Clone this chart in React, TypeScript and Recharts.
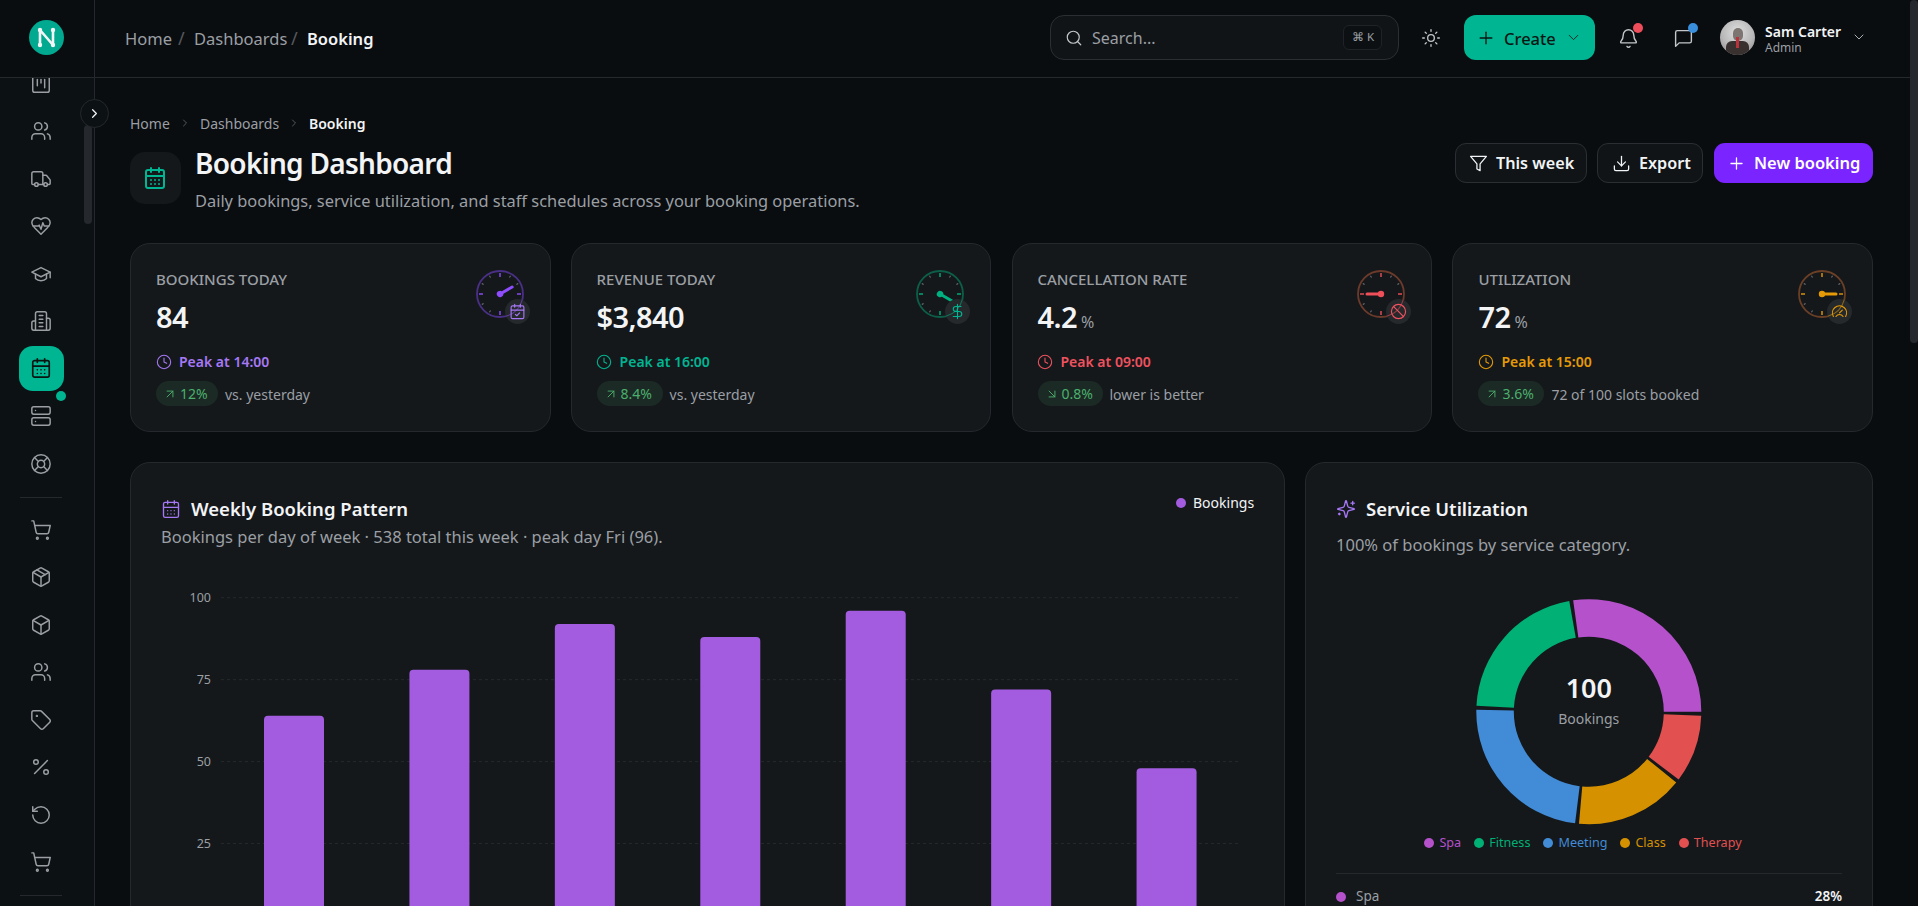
import React from "react";
import { BarChart, Bar, CartesianGrid, XAxis, YAxis, PieChart, Pie, Cell, Legend } from "recharts";

const days = ["Mon", "Tue", "Wed", "Thu", "Fri", "Sat", "Sun"];
const bookingsPerDay = [64, 78, 92, 88, 96, 72, 48];
const bookingTicks = [25, 50, 75, 100];

const serviceNames = ["Spa", "Fitness", "Meeting", "Class", "Therapy"];
const serviceShares = [28, 22, 24, 16, 10];
const serviceColors = ["#b651cc", "#00b074", "#428bd6", "#d69100", "#e25050"];

const kpiLabels = ["BOOKINGS TODAY", "REVENUE TODAY", "CANCELLATION RATE", "UTILIZATION"];
const kpiValues = ["84", "$3,840", "4.2", "72"];
const kpiUnits = ["", "", "%", "%"];
const kpiPeaks = ["Peak at 14:00", "Peak at 16:00", "Peak at 09:00", "Peak at 15:00"];
const kpiDeltas = ["12%", "8.4%", "0.8%", "3.6%"];
const kpiNotes = ["vs. yesterday", "vs. yesterday", "lower is better", "72 of 100 slots booked"];
const kpiColors = ["#a678f5", "#00b592", "#f0525f", "#e69a06"];
const kpiGaugeColors = ["#8f4dff", "#00b080", "#ee4f58", "#e69a06"];
const kpiRings = ["#4a2f86", "#0c5e48", "#6b3a2a", "#6b3f26"];
const kpiNeedles = [-30, 30, 180, 0];

const FONT = "'Noto Sans', sans-serif";
const CARD = "#14181b";
const LINE = "#25292d";
const TEXT = "#f3f4f6";
const MUTED = "#9b9fa4";

const bookingRows = days.map((day, i) => ({ day, bookings: bookingsPerDay[i] }));
const serviceRows = serviceNames.map((name, i) => ({ name, value: serviceShares[i] }));

type IconDef = { d?: string[]; c?: number[][]; r?: number[][] };

const calendar: IconDef = { d: ["M16 2v4", "M8 2v4", "M3 10h18", "M8 14h.01", "M12 14h.01", "M16 14h.01", "M8 18h.01", "M12 18h.01", "M16 18h.01"], r: [[3, 4, 18, 18, 2]] };
const calendarCheck: IconDef = { d: ["M16 2v4", "M8 2v4", "M3 10h18", "m9 16 2 2 4-4"], r: [[3, 4, 18, 18, 2]] };
const users: IconDef = { d: ["M16 21v-2a4 4 0 0 0-4-4H6a4 4 0 0 0-4 4v2", "M22 21v-2a4 4 0 0 0-3-3.87", "M16 3.13a4 4 0 0 1 0 7.75"], c: [[9, 7, 4]] };
const truck: IconDef = { d: ["M14 18V6a2 2 0 0 0-2-2H4a2 2 0 0 0-2 2v11a1 1 0 0 0 1 1h2", "M15 18H9", "M19 18h2a1 1 0 0 0 1-1v-3.65a1 1 0 0 0-.22-.624l-3.48-4.35A1 1 0 0 0 17.52 8H14"], c: [[17, 18, 2], [7, 18, 2]] };
const heartPulse: IconDef = { d: ["M19 14c1.49-1.46 3-3.21 3-5.5A5.5 5.5 0 0 0 16.5 3c-1.76 0-3 .5-4.5 2-1.5-1.5-2.74-2-4.5-2A5.5 5.5 0 0 0 2 8.5c0 2.3 1.5 4.05 3 5.5l7 7Z", "M3.22 12H9.5l.5-1 2 4.5 2-7 1.5 3.5h5.27"] };
const graduation: IconDef = { d: ["M22 10v6", "M2 10l10-5 10 5-10 5z", "M6 12v5c3 3 9 3 12 0v-5"] };
const building: IconDef = { d: ["M6 22V4a2 2 0 0 1 2-2h8a2 2 0 0 1 2 2v18Z", "M6 12H4a2 2 0 0 0-2 2v6a2 2 0 0 0 2 2h2", "M18 9h2a2 2 0 0 1 2 2v9a2 2 0 0 1-2 2h-2", "M10 6h4", "M10 10h4", "M10 14h4", "M10 18h4"] };
const server: IconDef = { d: ["M6 6h.01", "M6 18h.01"], r: [[2, 2, 20, 8, 2], [2, 14, 20, 8, 2]] };
const lifebuoy: IconDef = { d: ["m4.93 4.93 4.24 4.24", "m14.83 9.17 4.24-4.24", "m14.83 14.83 4.24 4.24", "m9.17 14.83-4.24 4.24"], c: [[12, 12, 10], [12, 12, 4]] };
const cart: IconDef = { d: ["M2.05 2.05h2l2.66 12.42a2 2 0 0 0 2 1.58h9.78a2 2 0 0 0 1.95-1.57l1.65-7.43H5.12"], c: [[8, 21, 1], [19, 21, 1]] };
const box: IconDef = { d: ["M21 8a2 2 0 0 0-1-1.73l-7-4a2 2 0 0 0-2 0l-7 4A2 2 0 0 0 3 8v8a2 2 0 0 0 1 1.73l7 4a2 2 0 0 0 2 0l7-4A2 2 0 0 0 21 16Z", "m3.3 7 8.7 5 8.7-5", "M12 22V12"] };
const pack: IconDef = { ...box, d: [...(box.d as string[]), "m7.5 4.27 9 5.15"] };
const tag: IconDef = { d: ["M12.586 2.586A2 2 0 0 0 11.172 2H4a2 2 0 0 0-2 2v7.172a2 2 0 0 0 .586 1.414l8.704 8.704a2.426 2.426 0 0 0 3.42 0l6.58-6.58a2.426 2.426 0 0 0 0-3.42z"], c: [[7.5, 7.5, 0.5]] };
const percent: IconDef = { d: ["M19 5 5 19"], c: [[6.5, 6.5, 2.5], [17.5, 17.5, 2.5]] };
const undo: IconDef = { d: ["M3 12a9 9 0 1 0 9-9 9.75 9.75 0 0 0-6.74 2.74L3 8", "M3 3v5h5"] };
const kanban: IconDef = { d: ["M8 7v7", "M12 7v4", "M16 7v9"], r: [[3, 3, 18, 18, 2]] };
const chevronRight: IconDef = { d: ["m9 18 6-6-6-6"] };
const chevronDown: IconDef = { d: ["m6 9 6 6 6-6"] };
const search: IconDef = { d: ["m21 21-4.34-4.34"], c: [[11, 11, 8]] };
const sun: IconDef = { d: ["M12 2v2", "M12 20v2", "m4.93 4.93 1.41 1.41", "m17.66 17.66 1.41 1.41", "M2 12h2", "M20 12h2", "m6.34 17.66-1.41 1.41", "m19.07 4.93-1.41 1.41"], c: [[12, 12, 4]] };
const plus: IconDef = { d: ["M5 12h14", "M12 5v14"] };
const bell: IconDef = { d: ["M10.27 21a2 2 0 0 0 3.46 0", "M3.26 15.33A1 1 0 0 0 4 17h16a1 1 0 0 0 .74-1.67C19.41 13.96 18 12.5 18 8A6 6 0 0 0 6 8c0 4.5-1.41 5.96-2.74 7.33"] };
const message: IconDef = { d: ["M21 15a2 2 0 0 1-2 2H7l-4 4V5a2 2 0 0 1 2-2h14a2 2 0 0 1 2 2z"] };
const funnel: IconDef = { d: ["M22 3H2l8 9.46V19l4 2v-8.54L22 3z"] };
const download: IconDef = { d: ["M12 15V3", "M21 15v4a2 2 0 0 1-2 2H5a2 2 0 0 1-2-2v-4", "m7 10 5 5 5-5"] };
const clock: IconDef = { d: ["M12 6v6l4 2"], c: [[12, 12, 10]] };
const arrowUp: IconDef = { d: ["M7 7h10v10", "M7 17 17 7"] };
const arrowDown: IconDef = { d: ["m7 7 10 10", "M17 7v10H7"] };
const sparkles: IconDef = { d: ["M9.94 15.5A2 2 0 0 0 8.5 14.06l-6.14-1.58a.5.5 0 0 1 0-.96L8.5 9.94A2 2 0 0 0 9.94 8.5l1.58-6.14a.5.5 0 0 1 .96 0L14.06 8.5A2 2 0 0 0 15.5 9.94l6.14 1.58a.5.5 0 0 1 0 .96L15.5 14.06a2 2 0 0 0-1.44 1.44l-1.58 6.14a.5.5 0 0 1-.96 0z", "M20 3v4", "M22 5h-4", "M4 17v2", "M5 18H3"] };
const dollar: IconDef = { d: ["M12 2v20", "M17 5H9.5a3.5 3.5 0 0 0 0 7h5a3.5 3.5 0 0 1 0 7H6"] };
const ban: IconDef = { d: ["m4.9 4.9 14.2 14.2"], c: [[12, 12, 10]] };
const gaugeIcon: IconDef = { d: ["M12 14l4-4", "M3.34 19a10 10 0 1 1 17.32 0", "M7 19a6 6 0 0 1 10 0"] };

const kpiBadges = [calendarCheck, dollar, ban, gaugeIcon];
const kpiLefts = [130, 570.6, 1011.5, 1452.4];

const sideIcons: [IconDef, number][] = [
  [users, 131], [truck, 179], [heartPulse, 226], [graduation, 274], [building, 321], [server, 416], [lifebuoy, 464],
  [cart, 530], [pack, 577], [box, 625], [users, 672], [tag, 720], [percent, 767], [undo, 815], [cart, 862],
];

// draws an icon centred on cx, cy
function Icon({ def, cx, cy, size = 20, color = MUTED, sw = 1.6 }: { def: IconDef; cx: number; cy: number; size?: number; color?: string; sw?: number }) {
  return (
    <svg width={size} height={size} viewBox="0 0 24 24" fill="none" stroke={color} strokeWidth={sw} strokeLinecap="round" strokeLinejoin="round"
      style={{ position: "absolute", left: cx - size / 2, top: cy - size / 2 }}>
      {(def.r || []).map((r, i) => <rect key={i} x={r[0]} y={r[1]} width={r[2]} height={r[3]} rx={r[4]} />)}
      {(def.c || []).map((c, i) => <circle key={i} cx={c[0]} cy={c[1]} r={c[2]} />)}
      {(def.d || []).map((d, i) => <path key={i} d={d} />)}
    </svg>
  );
}

// single line of text, vertically centred on y
function T({ x, y, size, color = TEXT, weight = 400, right, children, spacing }: { x: number; y: number; size: number; color?: string; weight?: number; right?: boolean; children: React.ReactNode; spacing?: number }) {
  return (
    <div style={{
      position: "absolute", top: y - size * 0.7, lineHeight: `${size * 1.4}px`, fontSize: size, color, fontWeight: weight, whiteSpace: "nowrap", letterSpacing: spacing,
      ...(right ? { right: 1918 - x } : { left: x }),
    }}>{children}</div>
  );
}

function Box({ x, y, w, h, r = 0, bg, border, style }: { x: number; y: number; w: number; h: number; r?: number; bg?: string; border?: string; style?: React.CSSProperties }) {
  return <div style={{ position: "absolute", left: x, top: y, width: w, height: h, borderRadius: r, background: bg, border: border ? `1px solid ${border}` : undefined, boxSizing: "border-box", ...style }} />;
}

function Gauge({ cx, cy, color, ring, angle, badge, badgeColor }: { cx: number; cy: number; color: string; ring: string; angle: number; badge: IconDef; badgeColor: string }) {
  const ticks = [0, 30, 60, 90, 120, 150, 180, 210, 240, 270, 300, 330];
  return (
    <>
      <svg width={56} height={56} viewBox="-28 -28 56 56" style={{ position: "absolute", left: cx - 28, top: cy - 28 }}>
        <circle r={23} fill="none" stroke={ring} strokeWidth={1.8} />
        {ticks.map((t) => (
          <line key={t} x1={t % 90 === 0 ? 17 : 19} x2={21} transform={`rotate(${t})`}
            stroke={t % 90 === 0 ? color : "#6f7377"} strokeWidth={t % 90 === 0 ? 1.4 : 1} />
        ))}
        <g transform={`rotate(${angle})`}>
          <line x1={0} x2={14} stroke={color} strokeWidth={3} strokeLinecap="round" />
          <circle r={3.2} fill={color} />
        </g>
      </svg>
      <Box x={cx + 5} y={cy + 5} w={25} h={25} r={13} bg="#26292c" />
      <svg width={56} height={56} viewBox="-28 -28 56 56" style={{ position: "absolute", left: cx - 28, top: cy - 28 }}>
        <circle r={23} fill="none" stroke={color} strokeWidth={1} strokeDasharray="24 120.5" transform="rotate(15)" opacity={0.55} />
      </svg>
      <Icon def={badge} cx={cx + 17.5} cy={cy + 17.5} size={17} color={badgeColor} />
    </>
  );
}

function KpiCard({ i }: { i: number }) {
  const x = kpiLefts[i];
  const color = kpiColors[i];
  const pillW = [62, 66, 65, 66][i];
  return (
    <>
      <Box x={x} y={243} w={420.5} h={189} r={20} bg={CARD} border={LINE} />
      <T x={x + 26} y={279.5} size={15} color={MUTED} weight={500}>{kpiLabels[i]}</T>
      <T x={x + 26} y={317} size={29} weight={600} spacing={-0.6}>{kpiValues[i]}{kpiUnits[i] && <span style={{ fontSize: 16, fontWeight: 400, color: MUTED, marginLeft: 4 }}>{kpiUnits[i]}</span>}</T>
      <Icon def={clock} cx={x + 33.5} cy={362} size={16} color={color} />
      <T x={x + 49} y={362} size={14} weight={600} color={color}>{kpiPeaks[i]}</T>
      <Box x={x + 26} y={381} w={pillW} h={25} r={13} bg="#1b2a24" />
      <Icon def={i === 2 ? arrowDown : arrowUp} cx={x + 40} cy={393.5} size={14} color="#4caf6e" />
      <T x={x + 50} y={394} size={14} color="#4caf6e">{kpiDeltas[i]}</T>
      <T x={x + 26 + pillW + 7} y={395} size={14} color={MUTED}>{kpiNotes[i]}</T>
      <Gauge cx={x + 369.6} cy={293.7} color={kpiGaugeColors[i]} ring={kpiRings[i]} angle={kpiNeedles[i]} badge={kpiBadges[i]} badgeColor={color} />
    </>
  );
}

function ServiceLegend() {
  return (
    <div style={{ display: "flex", justifyContent: "center", gap: 13, fontSize: 12.6 }}>
      {serviceNames.map((name, i) => (
        <span key={name} style={{ display: "flex", alignItems: "center", gap: 5, color: serviceColors[i] }}>
          <span style={{ width: 10, height: 10, borderRadius: 5, background: serviceColors[i] }} />
          {name}
        </span>
      ))}
    </div>
  );
}

export default function App() {
  return (
    <div style={{ position: "absolute", left: 0, top: 0, width: 1918, height: 906, overflow: "hidden", background: "#0a0d10", fontFamily: FONT }}>
      {/* sidebar */}
      <Box x={0} y={0} w={95} h={906} bg="#0c1114" style={{ borderRight: `1px solid ${LINE}` }} />
      <Icon def={kanban} cx={41} cy={84} size={22} />
      {sideIcons.map(([def, y], i) => <Icon key={i} def={def} cx={41} cy={y} size={22} />)}
      <Box x={19} y={346} w={45} h={45} r={14} bg="#00b592" />
      <Icon def={calendar} cx={41} cy={368} size={22} color="#0a1512" sw={1.8} />
      <Box x={56} y={391} w={10} h={10} r={5} bg="#00b592" />
      <Box x={20} y={497} w={42} h={1} bg={LINE} />
      <Box x={20} y={895} w={42} h={1} bg={LINE} />
      <Box x={84} y={125} w={8} h={99} r={4} bg="#25292d" />
      <Box x={79.5} y={98.5} w={29} h={29} r={15} bg="#0c1114" border={LINE} />
      <Icon def={chevronRight} cx={94} cy={113} size={15} color={TEXT} sw={2} />

      {/* header */}
      <Box x={0} y={0} w={1918} h={78} bg="#0a0d10" style={{ borderBottom: `1px solid ${LINE}` }} />
      <Box x={0} y={0} w={95} h={78} style={{ borderRight: `1px solid ${LINE}` }} />
      <Box x={29} y={20} w={35} h={35} r={18} bg="#00a98f" />
      <svg width={35} height={35} viewBox="-17.5 -17.5 35 35" style={{ position: "absolute", left: 29, top: 20 }}>
        <path d="M-6.5 7.5V-7.5L6.5 7.5V-7.5" fill="none" stroke="#f3f4f6" strokeWidth={2.6} strokeLinejoin="round" />
        <circle cx={-6.5} cy={-7.5} r={2.2} fill="#f3f4f6" />
        <circle cx={-6.5} cy={7.5} r={2.2} fill="#f3f4f6" />
        <circle cx={6.5} cy={-7.5} r={2.2} fill="#f3f4f6" />
        <circle cx={6.5} cy={7.5} r={2.2} fill="#f3f4f6" />
      </svg>
      <T x={125} y={39} size={16.5} color={MUTED}>Home</T>
      <T x={178} y={39} size={18} color="#55595e">/</T>
      <T x={194} y={39} size={16.5} color={MUTED}>Dashboards</T>
      <T x={291} y={39} size={18} color="#55595e">/</T>
      <T x={307} y={39} size={16.5} weight={600}>Booking</T>

      <Box x={1050} y={15} w={349} h={45} r={14} bg="#101417" border="#2b2f33" />
      <Icon def={search} cx={1074} cy={38} size={18} color="#c4c6c9" />
      <T x={1092} y={38.5} size={16} color={MUTED}>Search...</T>
      <Box x={1343} y={25} w={39} h={25} r={6} bg="#0c1012" border="#1f2327" />
      <T x={1352} y={37} size={11.5} color={MUTED}>⌘ K</T>
      <Icon def={sun} cx={1431} cy={38} size={20} color="#c4c6c9" />
      <Box x={1464} y={15} w={131} h={45} r={12} bg="#00b592" />
      <Icon def={plus} cx={1486} cy={38} size={20} color="#0a1512" />
      <T x={1504} y={39} size={16.5} weight={500} color="#0a1512">Create</T>
      <Icon def={chevronDown} cx={1573} cy={37} size={17} color="#0a1512" sw={1.2} />
      <Icon def={bell} cx={1628} cy={38} size={21} color="#c4c6c9" />
      <Box x={1633} y={23} w={10} h={10} r={5} bg="#ef4d5a" />
      <Icon def={message} cx={1683} cy={38} size={21} color="#c4c6c9" />
      <Box x={1688} y={23} w={10} h={10} r={5} bg="#3a8fdc" />
      <div style={{ position: "absolute", left: 1720, top: 20, width: 35, height: 35, borderRadius: 18, overflow: "hidden", background: "radial-gradient(circle at 50% 35%, #e0e0e0 0%, #b8b8b8 55%, #808080 100%)" }}>
        <div style={{ position: "absolute", left: 13, top: 8, width: 10, height: 13, borderRadius: 5, background: "#7d7572" }} />
        <div style={{ position: "absolute", left: 6, top: 21, width: 23, height: 16, borderRadius: 6, background: "#38312f" }} />
        <div style={{ position: "absolute", left: 16, top: 17, width: 3, height: 11, background: "#b8333a" }} />
      </div>
      <T x={1765} y={32} size={14} weight={600}>Sam Carter</T>
      <T x={1765} y={48} size={12} color={MUTED}>Admin</T>
      <Icon def={chevronDown} cx={1859} cy={37} size={16} color="#c4c6c9" sw={1.3} />

      {/* page scrollbar */}
      <Box x={1910} y={0} w={8} h={343} r={4} bg="#25292d" />

      {/* page title */}
      <T x={130} y={124} size={14} color={MUTED}>Home</T>
      <Icon def={chevronRight} cx={185} cy={123} size={12} color="#666a6f" />
      <T x={200} y={124} size={14} color={MUTED}>Dashboards</T>
      <Icon def={chevronRight} cx={294} cy={123} size={12} color="#666a6f" />
      <T x={309} y={124} size={14} weight={600}>Booking</T>
      <Box x={130} y={152} w={51} h={52} r={15} bg="#14181b" />
      <Icon def={calendar} cx={155} cy={178} size={24} color="#00b592" sw={2} />
      <T x={195} y={164} size={28} weight={600} spacing={-0.7}>Booking Dashboard</T>
      <T x={195} y={201} size={16.4} color={MUTED}>Daily bookings, service utilization, and staff schedules across your booking operations.</T>

      <Box x={1455} y={143} w={132} h={40} r={11} bg="#101417" border="#2b2f33" />
      <Icon def={funnel} cx={1478} cy={163} size={19} color={TEXT} />
      <T x={1496} y={163} size={16.2} weight={600}>This week</T>
      <Box x={1597} y={143} w={106} h={40} r={11} bg="#101417" border="#2b2f33" />
      <Icon def={download} cx={1621} cy={163} size={19} color={TEXT} />
      <T x={1639} y={163} size={16.2} weight={600}>Export</T>
      <Box x={1714} y={143} w={159} h={40} r={11} bg="#7a25ff" />
      <Icon def={plus} cx={1736} cy={163} size={19} color="#ffffff" />
      <T x={1754} y={163} size={16.5} weight={600} color="#ffffff">New booking</T>

      {kpiLabels.map((_, i) => <KpiCard key={i} i={i} />)}

      {/* weekly bookings card */}
      <Box x={130} y={462} w={1155} h={500} r={20} bg={CARD} border={LINE} />
      <Icon def={calendar} cx={171} cy={509} size={20} color="#a678f5" />
      <T x={191} y={509} size={18.5} weight={600}>Weekly Booking Pattern</T>
      <T x={161} y={537} size={16.5} color={MUTED}>Bookings per day of week · 538 total this week · peak day Fri (96).</T>
      <Box x={1176} y={498} w={10} h={10} r={5} bg="#a35ce0" />
      <T x={1193} y={503} size={14}>Bookings</T>
      <div style={{ position: "absolute", left: 161, top: 585 }}>
        <BarChart width={1085} height={340.5} data={bookingRows} margin={{ top: 12.7, right: 7, bottom: 0, left: 0 }} barSize={60}>
          <CartesianGrid vertical={false} stroke={LINE} strokeDasharray="3 3" />
          <XAxis dataKey="day" hide />
          <YAxis domain={[0, 100]} ticks={bookingTicks} axisLine={false} tickLine={false} width={60} tickMargin={4} tick={{ fill: MUTED, fontSize: 12.5 }} />
          <Bar dataKey="bookings" fill="#a35ce0" radius={[4, 4, 0, 0]} isAnimationActive={false} />
        </BarChart>
      </div>

      {/* service utilization card */}
      <Box x={1305} y={462} w={568} h={500} r={20} bg={CARD} border={LINE} />
      <Icon def={sparkles} cx={1346} cy={509} size={20} color="#a678f5" />
      <T x={1366} y={509} size={18.5} weight={600}>Service Utilization</T>
      <T x={1336} y={545} size={16.5} color={MUTED}>100% of bookings by service category.</T>
      <div style={{ position: "absolute", left: 1305, top: 590 }}>
        <PieChart width={568} height={270} margin={{ top: 0, right: 0, bottom: 0, left: 0 }}>
          <Pie data={serviceRows} dataKey="value" nameKey="name" cx={283.8} cy={121.7} innerRadius={75} outerRadius={112.5}
            startAngle={0} endAngle={360} paddingAngle={2} stroke="none" isAnimationActive={false}>
            {serviceRows.map((row, i) => <Cell key={row.name} fill={serviceColors[i]} />)}
          </Pie>
          <text x={283.8} y={97} textAnchor="middle" dominantBaseline="central" fill={TEXT} fontSize={27} fontWeight={600}>100</text>
          <text x={283.8} y={128.5} textAnchor="middle" dominantBaseline="central" fill={MUTED} fontSize={14}>Bookings</text>
          <Legend content={ServiceLegend} wrapperStyle={{ left: 0, width: 556, top: 244 }} />
        </PieChart>
      </div>
      <Box x={1336} y={892} w={10} h={10} r={5} bg={serviceColors[0]} />
      <Box x={1336} y={873} w={506} h={1} bg={LINE} />
      <T x={1356} y={896} size={13.5} color={MUTED}>{serviceNames[0]}</T>
      <T x={1842} y={896} size={13.5} weight={600} right>{serviceShares[0]}%</T>
    </div>
  );
}
